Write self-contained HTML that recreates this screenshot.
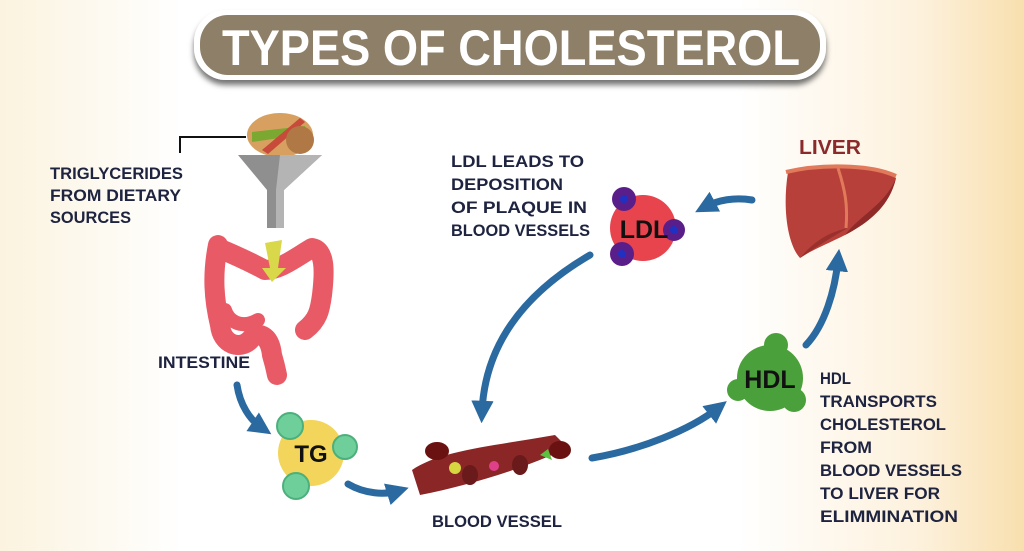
<!DOCTYPE html>
<html><head><meta charset="utf-8">
<style>
html,body{margin:0;padding:0;}
body{width:1024px;height:546px;overflow:hidden;background:linear-gradient(90deg,#fbf3df 0%,#ffffff 18%,#ffffff 72%,#fdf1dc 90%,#f8dfae 100%);}
svg text{font-family:"Liberation Sans",sans-serif;font-weight:bold;}
</style></head><body>
<svg width="1024" height="546" viewBox="0 0 1024 546" xmlns="http://www.w3.org/2000/svg">
<defs>
<marker id="ah" viewBox="0 0 10 10" refX="5" refY="5" markerWidth="3.2" markerHeight="3.2" orient="auto"><path d="M0,0 L10,5 L0,10 z" fill="#2a6aa0"/></marker>
<filter id="sh" x="-5%" y="-20%" width="110%" height="160%"><feDropShadow dx="0" dy="5" stdDeviation="3" flood-color="#000" flood-opacity="0.55"/></filter>
</defs>
<!-- Title -->
<rect x="194" y="10" width="632" height="70" rx="32" fill="#fff" filter="url(#sh)"/>
<rect x="200" y="15" width="620" height="60" rx="28" fill="#8e8068"/>
<text x="222" y="65" font-size="50" fill="#fff" textLength="578" lengthAdjust="spacingAndGlyphs">TYPES OF CHOLESTEROL</text>

<!-- Triglycerides -->
<path d="M180,153 V137 H246" stroke="#111" stroke-width="2" fill="none"/>
<g font-size="17" fill="#1e2340">
<text x="50" y="179" textLength="133" lengthAdjust="spacingAndGlyphs">TRIGLYCERIDES</text>
<text x="50" y="201" textLength="131" lengthAdjust="spacingAndGlyphs">FROM DIETARY</text>
<text x="50" y="223" textLength="81" lengthAdjust="spacingAndGlyphs">SOURCES</text>
</g>
<!-- burger -->
<ellipse cx="280" cy="135" rx="33" ry="22" fill="#d7a060"/>
<path d="M252,132 L305,126 L306,134 L252,142z" fill="#7aa830"/>
<path d="M262,150 L300,118 L305,122 L268,154z" fill="#c84a3a"/>
<ellipse cx="300" cy="140" rx="14" ry="14" fill="#b07845"/>
<!-- funnel -->
<path d="M238,155 H322 L284,190 V228 H267 V190 Z" fill="#8f8f8f"/>
<path d="M280,155 H322 L284,190 V228 H276 V190 Z" fill="#b4b4b4"/>
<!-- intestine -->
<g fill="none" stroke="#e85a66" stroke-linecap="round" stroke-linejoin="round">
<path d="M218,245 C212,275 214,300 220,325 C222,345 240,350 250,340 C258,330 270,335 272,355 C275,365 276,370 277,375" stroke-width="20"/>
<path d="M218,248 C235,255 250,262 265,270 C280,270 295,258 312,248 C325,250 325,270 322,295 C320,310 318,320 305,330" stroke-width="20"/>
<path d="M225,310 C228,320 240,330 258,320" stroke-width="14"/>
</g>
<path d="M265,243 L282,240 L278,268 L286,268 L272,282 L262,268 L270,268 Z" fill="#d8d84a"/>
<text x="158" y="368" font-size="17" fill="#1e2340" textLength="92" lengthAdjust="spacingAndGlyphs">INTESTINE</text>

<!-- arrows -->
<g fill="none" stroke="#2a6aa0" stroke-width="7" stroke-linecap="round">
<path d="M237,385 C240,405 250,420 262,428" marker-end="url(#ah)"/>
<path d="M348,484 C365,494 385,495 398,491" marker-end="url(#ah)"/>
<path d="M590,255 C530,290 485,340 482,412" marker-end="url(#ah)"/>
<path d="M592,458 C640,450 690,430 718,408" marker-end="url(#ah)"/>
<path d="M806,345 C825,325 835,290 838,260" marker-end="url(#ah)"/>
<path d="M752,200 C735,197 718,200 705,207" marker-end="url(#ah)"/>
</g>

<!-- TG -->
<circle cx="311" cy="453" r="33" fill="#f2d55a"/>
<circle cx="290" cy="426" r="13" fill="#6fcf9a" stroke="#4cb07c" stroke-width="2"/>
<circle cx="345" cy="447" r="12" fill="#6fcf9a" stroke="#4cb07c" stroke-width="2"/>
<circle cx="296" cy="486" r="13" fill="#6fcf9a" stroke="#4cb07c" stroke-width="2"/>
<text x="311" y="462" text-anchor="middle" font-size="24" fill="#111">TG</text>

<!-- blood vessel -->
<path d="M412,470 C440,450 500,445 555,435 L568,448 C520,470 470,485 420,495 Z" fill="#fff" stroke="#fff" stroke-width="8"/>
<path d="M412,470 C440,450 500,445 555,435 L568,448 C520,470 470,485 420,495 Z" fill="#8a2626"/>
<ellipse cx="437" cy="451" rx="12" ry="9" fill="#6a1212"/>
<ellipse cx="560" cy="450" rx="11" ry="9" fill="#6a1212"/>
<ellipse cx="470" cy="475" rx="8" ry="10" fill="#6a1a1a"/>
<ellipse cx="520" cy="465" rx="8" ry="10" fill="#6a1a1a"/>
<circle cx="455" cy="468" r="6" fill="#d6d640"/>
<circle cx="494" cy="466" r="5" fill="#e0408a"/>
<path d="M540,455 L548,449 L552,460z" fill="#5cc040"/>
<text x="432" y="527" font-size="17" fill="#1e2340" textLength="130" lengthAdjust="spacingAndGlyphs">BLOOD VESSEL</text>

<!-- LDL -->
<g font-size="17" fill="#1e2340">
<text x="451" y="167" textLength="133" lengthAdjust="spacingAndGlyphs">LDL LEADS TO</text>
<text x="451" y="190" textLength="112" lengthAdjust="spacingAndGlyphs">DEPOSITION</text>
<text x="451" y="213" textLength="136" lengthAdjust="spacingAndGlyphs">OF PLAQUE IN</text>
<text x="451" y="236" textLength="139" lengthAdjust="spacingAndGlyphs">BLOOD VESSELS</text>
</g>
<circle cx="643" cy="228" r="33" fill="#e8444e"/>
<circle cx="624" cy="199" r="12" fill="#5a1e8a"/><circle cx="624" cy="199" r="4" fill="#2030c0"/>
<circle cx="674" cy="230" r="11" fill="#5a1e8a"/><circle cx="674" cy="230" r="4" fill="#2030c0"/>
<circle cx="622" cy="254" r="12" fill="#5a1e8a"/><circle cx="622" cy="254" r="4" fill="#2030c0"/>
<text x="644" y="238" text-anchor="middle" font-size="25" fill="#111">LDL</text>

<!-- Liver -->
<text x="799" y="154" font-size="20" fill="#8a2a2a" textLength="62" lengthAdjust="spacingAndGlyphs">LIVER</text>
<path d="M788,172 C830,163 880,167 896,178 C890,205 870,222 845,235 C825,245 812,250 800,258 C788,245 782,210 788,172 Z" fill="#b8403a"/>
<path d="M845,235 C870,222 890,205 896,178 C885,205 860,215 845,235 Z" fill="#8e2a28"/>
<path d="M800,258 C815,240 830,232 848,228 C830,238 815,248 800,258Z" fill="#9a302c"/>
<path d="M786,172 C820,164 870,164 896,176" stroke="#e07a5a" stroke-width="4" fill="none"/>
<path d="M838,168 C845,190 848,205 846,228" stroke="#e07a5a" stroke-width="3" fill="none"/>

<!-- HDL -->
<circle cx="770" cy="378" r="33" fill="#4aa03a"/>
<circle cx="776" cy="345" r="12" fill="#4aa03a"/>
<circle cx="738" cy="390" r="11" fill="#4aa03a"/>
<circle cx="794" cy="400" r="12" fill="#4aa03a"/>
<text x="770" y="388" text-anchor="middle" font-size="25" fill="#111">HDL</text>
<g font-size="17" fill="#1e2340">
<text x="820" y="384" textLength="31" lengthAdjust="spacingAndGlyphs">HDL</text>
<text x="820" y="407" textLength="117" lengthAdjust="spacingAndGlyphs">TRANSPORTS</text>
<text x="820" y="430" textLength="126" lengthAdjust="spacingAndGlyphs">CHOLESTEROL</text>
<text x="820" y="453" textLength="52" lengthAdjust="spacingAndGlyphs">FROM</text>
<text x="820" y="476" textLength="142" lengthAdjust="spacingAndGlyphs">BLOOD VESSELS</text>
<text x="820" y="499" textLength="120" lengthAdjust="spacingAndGlyphs">TO LIVER FOR</text>
<text x="820" y="522" textLength="138" lengthAdjust="spacingAndGlyphs">ELIMMINATION</text>
</g>
</svg>
</body></html>
